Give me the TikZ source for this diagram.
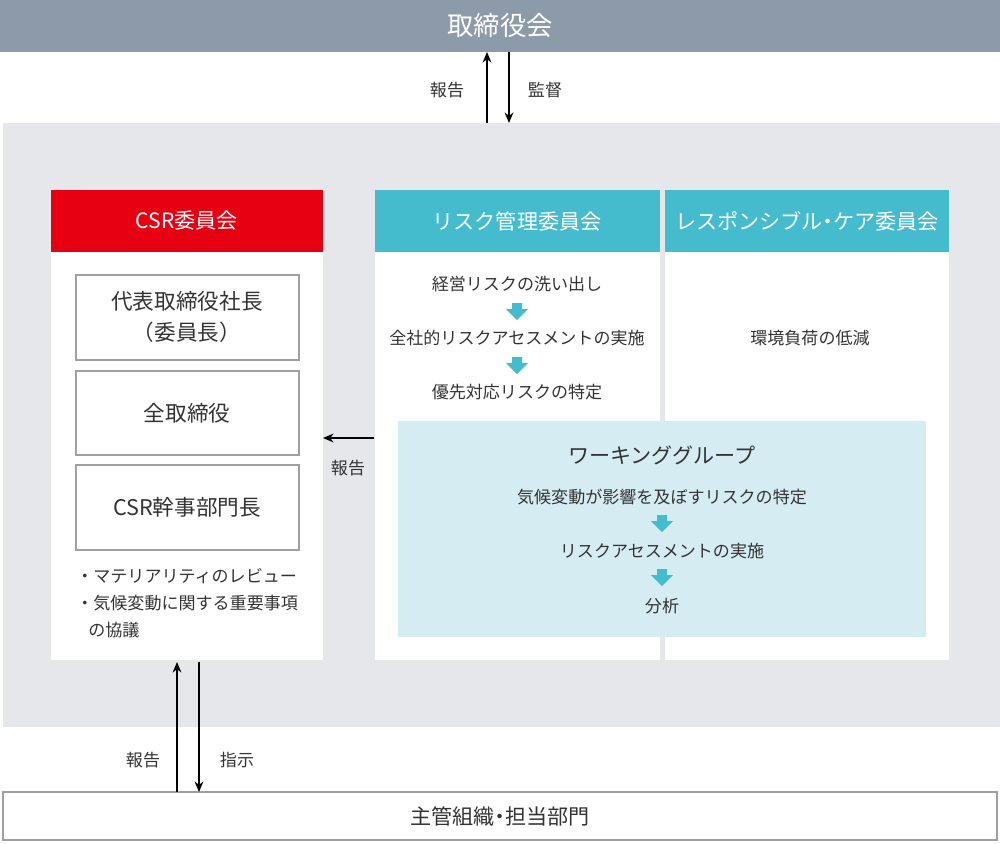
\documentclass[tikz,border=0pt]{standalone}
\usepackage{fontspec}
\setmainfont{Noto Sans CJK JP}
\usetikzlibrary{arrows.meta}
\definecolor{topgray}{HTML}{8D9AAA}
\definecolor{panel}{HTML}{E6E7EB}
\definecolor{csrred}{HTML}{E60012}
\definecolor{teal}{HTML}{45BCCE}
\definecolor{wg}{HTML}{D5ECF3}
\definecolor{txt}{HTML}{333333}
\definecolor{bord}{HTML}{A0A0A0}
\tikzset{
  x=0.02cm,y=-0.02cm,
  lbl/.style={font=\fontsize{9.7}{11}\selectfont,text=txt,inner sep=0},
  big/.style={font=\fontsize{12.3}{18}\selectfont},
  hdr/.style={font=\fontsize{12}{14}\selectfont,text=white,inner sep=0},
  arr/.style={-{Stealth[length=6pt,width=5pt]},line width=0.9pt,black},
  ibox/.style={draw=bord,fill=white,line width=0.6pt},
  dn/.pic={\fill[teal] (-5,-9)--(5,-9)--(5,-3)--(11,-3)--(0,8)--(-11,-3)--(-5,-3)--cycle;}
}
\begin{document}
\begin{tikzpicture}
\useasboundingbox (0,0) rectangle (1000,843);
\fill[topgray] (0,0) rectangle (1000,52);
\node[hdr,font=\fontsize{15}{17}\selectfont] (top) at (500,26) {取締役会};
\fill[panel] (3,123) rectangle (1000,727);
\coordinate (ua) at (487,123); \coordinate (ub) at (487,52);
\coordinate (da) at (509,52); \coordinate (db) at (509,123);
\draw[arr] (ua)--(ub); \draw[arr] (da)--(db);
\node[lbl] (l1) at (447,90) {報告};
\node[lbl] (l2) at (545,90) {監督};
% CSR
\fill[white] (51,190) rectangle (323,660);
\fill[csrred] (51,190) rectangle (323,252);
\node[hdr] (csr) at (187,221) {CSR委員会};
\draw[ibox] (76,275) rectangle (299,360);
\node[lbl,big,align=center] (b1) at (187,317) {代表取締役社長\\（委員長）};
\draw[ibox] (76,371) rectangle (299,455);
\node[lbl,big] (b2) at (187,413) {全取締役};
\draw[ibox] (76,465) rectangle (299,550);
\node[lbl,big] (b3) at (187,507) {CSR幹事部門長};
\node[lbl,anchor=west] (t1) at (76,576) {・マテリアリティのレビュー};
\node[lbl,anchor=west] (t2) at (76,603) {・気候変動に関する重要事項};
\node[lbl,anchor=west] (t3) at (88,630) {の協議};
% risk
\fill[white] (375,190) rectangle (660,660);
\fill[teal] (375,190) rectangle (660,252);
\node[hdr] (risk) at (517,221) {リスク管理委員会};
\node[lbl] (r1) at (517,284) {経営リスクの洗い出し};
\pic at (517,312) {dn};
\node[lbl] (r2) at (517,338) {全社的リスクアセスメントの実施};
\pic at (517,366) {dn};
\node[lbl] (r3) at (517,392) {優先対応リスクの特定};
% responsible
\fill[white] (665,190) rectangle (949,660);
\fill[teal] (665,190) rectangle (949,252);
\node[hdr] (resp) at (807,221) {レスポンシブル{\kern-0.25em}・{\kern-0.25em}ケア委員会};
\node[lbl] (e1) at (810,338) {環境負荷の低減};
% WG
\fill[wg] (398,421) rectangle (926,637);
\node[lbl,font=\fontsize{12}{14}\selectfont] (w0) at (662,455) {ワーキンググループ};
\node[lbl] (w1) at (662,497) {気候変動が影響を及ぼすリスクの特定};
\pic at (662,524) {dn};
\node[lbl] (w2) at (662,551) {リスクアセスメントの実施};
\pic at (662,578) {dn};
\node[lbl] (w3) at (662,606) {分析};
\coordinate (ra) at (374,438); \coordinate (rb) at (323,438);
\draw[arr] (ra)--(rb);
\node[lbl] (l3) at (348,468) {報告};
% bottom
\draw[bord,fill=white,line width=0.6pt] (3,792) rectangle (997,840);
\node[lbl,font=\fontsize{12}{14}\selectfont] (bot) at (500,816) {主管組織{\kern-0.25em}・{\kern-0.25em}担当部門};
\coordinate (ba) at (177,792); \coordinate (bb) at (177,662);
\coordinate (bc) at (199,662); \coordinate (bd) at (199,792);
\draw[arr] (ba)--(bb); \draw[arr] (bc)--(bd);
\node[lbl] (l4) at (143,760) {報告};
\node[lbl] (l5) at (237,760) {指示};
\end{tikzpicture}
\end{document}
